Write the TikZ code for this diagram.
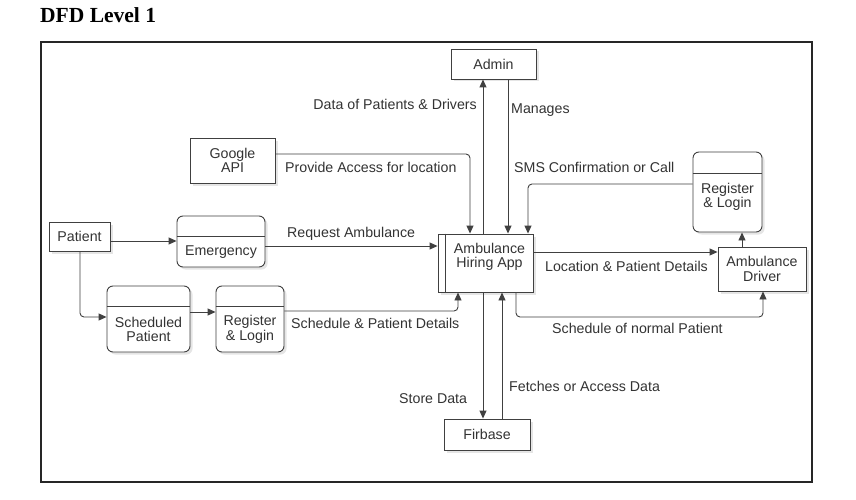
\documentclass[tikz,border=0pt]{standalone}
\usepackage{fontspec}
\setmainfont{Liberation Sans}
\newfontfamily\titlefont{Liberation Serif}
\usetikzlibrary{arrows.meta,calc}
\definecolor{ln}{HTML}{404040}
\definecolor{tx}{HTML}{333333}
\begin{document}
\begin{tikzpicture}[x=1pt,y=-1pt,
  font=\fontsize{14.2}{14.5}\selectfont,
  shadowed/.style={preaction={fill=black!10, draw=none, transform canvas={xshift=2.5pt,yshift=-2.5pt}}},
  ext/.style={draw=ln, line width=0.9pt, fill=white, align=center, text=tx, inner sep=0pt, shadowed},
  proc/.style={ext, rounded corners=6pt},
  hdr/.style={draw=ln, line width=0.9pt},
  txt/.style={text=tx, align=center, inner sep=0pt},
  lbl/.style={text=tx, inner sep=0pt, anchor=west},
  arr/.style={draw=ln, line width=0.9pt, -{Triangle[length=8pt,width=7pt]}, rounded corners=4pt}]
\useasboundingbox (0,0) rectangle (856,500);
\fill[white] (0,0) rectangle (856,500);
\node[anchor=base west, inner sep=0pt, font=\titlefont\bfseries\fontsize{21.5}{24}\selectfont] (title) at (40,23) {DFD Level 1};
\draw[black!85, line width=1.3pt] (41,42) rectangle (812,482);

% columns and rows
\coordinate (c80) at (80,0);
\coordinate (c458) at (458,0);
\coordinate (c470) at (470,0);
\coordinate (c483) at (483,0);
\coordinate (c502) at (502,0);
\coordinate (c508) at (508,0);
\coordinate (c516) at (516,0);
\coordinate (c528) at (528,0);
\coordinate (c742) at (742,0);
\coordinate (c763) at (763,0);
\coordinate (r154) at (0,154);
\coordinate (r184) at (0,184);
\coordinate (r241) at (0,241);
\coordinate (r246) at (0,246);
\coordinate (r252) at (0,252);
\coordinate (r311) at (0,311);
\coordinate (r312) at (0,312);
\coordinate (r317) at (0,317);

% external entities
\node[ext, minimum width=85pt, minimum height=30pt] (admin) at (493.5,64) {Admin};
\node[ext, minimum width=85pt, minimum height=45pt] (google) at (232.5,160.5) {Google\\API};
\node[ext, minimum width=61pt, minimum height=29pt] (patient) at (79.5,236.5) {Patient};
\node[ext, minimum width=88pt, minimum height=44pt] (driver) at (762,269) {Ambulance\\Driver};
\node[ext, minimum width=86pt, minimum height=31pt] (fb) at (487,434.5) {Firbase};

% central app
\node[ext, minimum width=95pt, minimum height=58pt] (app) at (485.5,263) {};
\draw[hdr] ($(app.north west)+(8,0)$) -- ($(app.south west)+(8,0)$);
\node[txt] (appT) at (489.5,257) {Ambulance\\Hiring App};

% processes
\node[proc, minimum width=88pt, minimum height=51pt] (emg) at (221,241.5) {};
\draw[hdr] ($(emg.north west)+(0,21)$) -- ($(emg.north east)+(0,21)$);
\node[txt] (emgT) at (221,252) {Emergency};

\node[proc, minimum width=83pt, minimum height=66pt] (schedP) at (148.5,319) {};
\draw[hdr] ($(schedP.north west)+(0,21)$) -- ($(schedP.north east)+(0,21)$);
\node[txt] (schedPT) at (148.5,329.5) {Scheduled\\Patient};

\node[proc, minimum width=68pt, minimum height=66pt] (regL) at (250,319) {};
\draw[hdr] ($(regL.north west)+(0,21)$) -- ($(regL.north east)+(0,21)$);
\node[txt] (regLT) at (250,329.5) {Register\\\& Login};

\node[proc, minimum width=69pt, minimum height=80pt] (regR) at (727.5,192) {};
\draw[hdr] ($(regR.north west)+(0,22)$) -- ($(regR.north east)+(0,22)$);
\node[txt] (regRT) at (727.5,197) {Register\\\& Login};

% connectors
\draw[arr] (app.north -| c483) -- (admin.south -| c483);
\draw[arr] (admin.south -| c508) -- (app.north -| c508);
\draw[arr] (google.east |- r154) -| (app.north -| c470);
\draw[arr] (regR.west |- r184) -| (app.north -| c528);
\draw[arr] (patient.east |- r241) -- (emg.west |- r241);
\draw[arr] (emg.east |- r246) -- (app.west |- r246);
\draw[arr] (patient.south -| c80) |- (schedP.west |- r317);
\draw[arr] (schedP.east |- r312) -- (regL.west |- r312);
\draw[arr] (regL.east |- r311) -| (app.south -| c458);
\draw[arr] (app.east |- r252) -- (driver.west |- r252);
\draw[arr] (driver.north -| c742) -- (regR.south -| c742);
\draw[arr] (app.south -| c516) |- (c763 |- r317) -- (driver.south -| c763);
\draw[arr] (app.south -| c483) -- (fb.north -| c483);
\draw[arr] (fb.north -| c502) -- (app.south -| c502);

% labels
\node[lbl, anchor=east] (l1) at (477,104) {Data of Patients \& Drivers};
\node[lbl] (l2) at (511,110) {Manages};
\node[lbl] (l3) at (285,167) {Provide Access for location};
\node[lbl] (l4) at (514,167) {SMS Confirmation or Call};
\node[lbl] (l5) at (287,234) {Request Ambulance};
\node[lbl] (l6) at (545,266) {Location \& Patient Details};
\node[lbl] (l7) at (552,328) {Schedule of normal Patient};
\node[lbl] (l8) at (291,323) {Schedule \& Patient Details};
\node[lbl] (l9) at (399,399) {Store Data};
\node[lbl] (l10) at (509,386) {Fetches or Access Data};
\end{tikzpicture}
\end{document}
